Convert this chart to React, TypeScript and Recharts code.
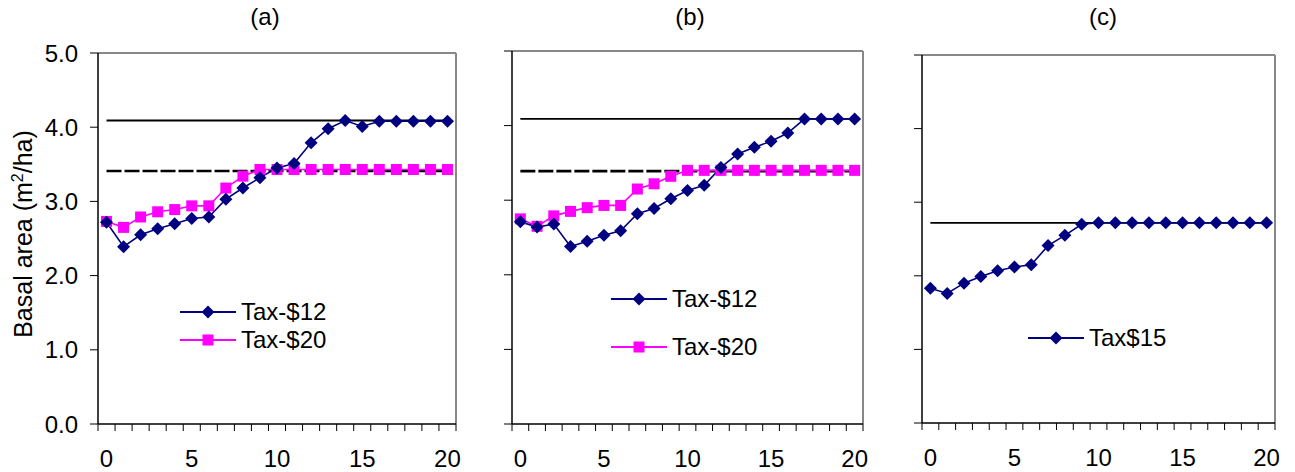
import React from 'react';
import { LineChart, Line, XAxis, YAxis, ReferenceLine, Legend } from 'recharts';

// ---------- data ----------
const years = [0, 1, 2, 3, 4, 5, 6, 7, 8, 9, 10, 11, 12, 13, 14, 15, 16, 17, 18, 19, 20];
const xTickLabels = [0, 5, 10, 15, 20];
const yTicks = [0, 1, 2, 3, 4, 5];

const aTax12 = [2.72, 2.39, 2.55, 2.63, 2.70, 2.77, 2.79, 3.03, 3.18, 3.32, 3.45, 3.51, 3.79, 3.98, 4.09, 4.01, 4.08, 4.08, 4.08, 4.08, 4.08];
const aTax20 = [2.73, 2.65, 2.79, 2.86, 2.89, 2.94, 2.94, 3.18, 3.34, 3.43, 3.43, 3.43, 3.43, 3.43, 3.43, 3.43, 3.43, 3.43, 3.43, 3.43, 3.43];
const bTax12 = [2.71, 2.64, 2.68, 2.38, 2.45, 2.53, 2.59, 2.82, 2.89, 3.02, 3.13, 3.20, 3.44, 3.62, 3.71, 3.79, 3.90, 4.09, 4.09, 4.09, 4.09];
const bTax20 = [2.75, 2.65, 2.79, 2.85, 2.90, 2.93, 2.93, 3.15, 3.22, 3.32, 3.40, 3.40, 3.40, 3.40, 3.40, 3.40, 3.40, 3.40, 3.40, 3.40, 3.40];
const cTax15 = [1.83, 1.76, 1.90, 1.99, 2.07, 2.12, 2.15, 2.41, 2.55, 2.70, 2.72, 2.72, 2.72, 2.72, 2.72, 2.72, 2.72, 2.72, 2.72, 2.72, 2.72];

const aSolidRef = 4.09;
const aDashedRef = 3.41;
const bSolidRef = 4.09;
const bDashedRef = 3.39;
const cSolidRef = 2.72;

// ---------- styles ----------
const NAVY = '#000080';
const MAGENTA = '#FF00FF';
const FONT = '"Liberation Sans", Arial, sans-serif';
const FS = 24;

const xMinorTicks = [...years.map((y) => y - 0.5), years[years.length - 1] + 0.5];
const xAllTicks = [...xMinorTicks, ...xTickLabels].sort((p, q) => p - q);
const xDomain = [xMinorTicks[0], xMinorTicks[xMinorTicks.length - 1]];

const Diamond = (props: any) => {
  const { cx, cy } = props;
  if (cx == null || cy == null) return <g />;
  const r = 6.5;
  return <polygon points={`${cx},${cy - r} ${cx + r},${cy} ${cx},${cy + r} ${cx - r},${cy}`} fill={NAVY} stroke="none" />;
};

const Square = (props: any) => {
  const { cx, cy } = props;
  if (cx == null || cy == null) return <g />;
  const s = 5.5;
  return <rect x={cx - s} y={cy - s} width={2 * s} height={2 * s} fill={MAGENTA} stroke="none" />;
};

const XTick = (props: any) => {
  const { x, y, payload } = props;
  const v = payload.value;
  if (Number.isInteger(v)) {
    return (
      <text x={x} y={y + 43} textAnchor="middle" fontSize={FS} fontFamily={FONT} fill="#000">
        {v}
      </text>
    );
  }
  return <line x1={x} x2={x} y1={y} y2={y + 7} stroke="#000" strokeWidth={1} />;
};

const makeYTick = (show: boolean) => (props: any) => {
  const { x, y, payload } = props;
  if (!show) return <g />;
  return (
    <text x={x - 12} y={y} dy="0.36em" textAnchor="end" fontSize={FS} fontFamily={FONT} fill="#000">
      {Number(payload.value).toFixed(1)}
    </text>
  );
};

type Entry = { name: string; color: string; shape: 'diamond' | 'square' };

const makeLegend = (entries: Entry[], gap: number) => () => (
  <div style={{ fontFamily: FONT, fontSize: FS, color: '#000', lineHeight: '24px' }}>
    {entries.map((e, i) => (
      <div key={e.name} style={{ display: 'flex', alignItems: 'center', height: 24, marginTop: i === 0 ? 0 : gap }}>
        <svg width={56} height={16} style={{ display: 'block' }}>
          <line x1={0} x2={56} y1={8} y2={8} stroke={e.color} strokeWidth={2} />
          {e.shape === 'diamond' ? (
            <polygon points="28,1.5 34.5,8 28,14.5 21.5,8" fill={e.color} />
          ) : (
            <rect x={22.5} y={2.5} width={11} height={11} fill={e.color} />
          )}
        </svg>
        <span style={{ marginLeft: 5, whiteSpace: 'nowrap', lineHeight: '24px', height: 24, display: 'block' }}>{e.name}</span>
      </div>
    ))}
  </div>
);

type PanelProps = {
  left: number;
  width: number;
  top: number;
  xAxisHeight: number;
  yAxisWidth: number;
  marginRight: number;
  showYLabels: boolean;
  data: any[];
  series: { key: string; color: string; shape: 'diamond' | 'square'; name: string }[];
  solidRef: number;
  dashedRef?: number;
  legendLeft: number;
  legendTop: number;
  legendGap: number;
};

const Panel = (p: PanelProps) => {
  const entries: Entry[] = p.series.map((s) => ({ name: s.name, color: s.color, shape: s.shape }));
  const YTick = makeYTick(p.showYLabels);
  return (
    <div style={{ position: 'absolute', left: p.left, top: 0 }}>
      <LineChart width={p.width} height={472} data={p.data} margin={{ top: p.top, right: p.marginRight, left: 0, bottom: 0 }}>
        <XAxis
          dataKey="x"
          type="number"
          domain={xDomain}
          ticks={xAllTicks}
          interval={0}
          tick={<XTick />}
          tickLine={false}
          tickSize={0}
          tickMargin={0}
          height={p.xAxisHeight}
          axisLine={{ stroke: '#000', strokeWidth: 1.5 }}
          allowDataOverflow
        />
        <YAxis
          type="number"
          domain={[0, 5]}
          ticks={yTicks}
          interval={0}
          width={p.yAxisWidth}
          tickSize={8}
          tickMargin={0}
          tick={<YTick />}
          axisLine={{ stroke: '#000', strokeWidth: 1.5 }}
          tickLine={{ stroke: '#000', strokeWidth: 1 }}
          allowDataOverflow
        />
        <ReferenceLine y={5} stroke="#888888" strokeWidth={2} />
        <ReferenceLine x={xDomain[1]} stroke="#888888" strokeWidth={2} />
        <ReferenceLine
          segment={[{ x: years[0], y: p.solidRef }, { x: years[years.length - 1], y: p.solidRef }]}
          stroke="#000"
          strokeWidth={1.8}
        />
        {p.dashedRef !== undefined && (
          <ReferenceLine
            segment={[{ x: years[0], y: p.dashedRef }, { x: years[years.length - 1], y: p.dashedRef }]}
            stroke="#000"
            strokeWidth={2.6}
            strokeDasharray="15 3"
          />
        )}
        {p.series.slice().reverse().map((s) => (
          <Line
            key={s.key}
            dataKey={s.key}
            name={s.name}
            type="linear"
            stroke={s.color}
            strokeWidth={1.6}
            dot={s.shape === 'diamond' ? <Diamond /> : <Square />}
            activeDot={false}
            isAnimationActive={false}
          />
        ))}
        <Legend
          layout="vertical"
          align="center"
          verticalAlign="middle"
          content={makeLegend(entries, p.legendGap)}
          wrapperStyle={{ left: p.legendLeft, top: p.legendTop, width: 'auto' }}
        />
      </LineChart>
    </div>
  );
};

const dataA = years.map((x, i) => ({ x, tax12: aTax12[i], tax20: aTax20[i] }));
const dataB = years.map((x, i) => ({ x, tax12: bTax12[i], tax20: bTax20[i] }));
const dataC = years.map((x, i) => ({ x, tax15: cTax15[i] }));

const seriesAB = [
  { key: 'tax12', color: NAVY, shape: 'diamond' as const, name: 'Tax-$12' },
  { key: 'tax20', color: MAGENTA, shape: 'square' as const, name: 'Tax-$20' },
];
const seriesC = [{ key: 'tax15', color: NAVY, shape: 'diamond' as const, name: 'Tax$15' }];

const titleStyle = (cx: number): React.CSSProperties => ({
  position: 'absolute',
  left: cx - 40,
  width: 80,
  top: 3,
  textAlign: 'center',
  fontFamily: FONT,
  fontSize: FS,
  color: '#000',
});

export default function App() {
  return (
    <div style={{ position: 'absolute', left: 0, top: 0, width: 1295, height: 472, background: '#fff', overflow: 'hidden', fontFamily: FONT }}>
      <Panel
        left={0}
        width={470}
        top={53}
        xAxisHeight={48}
        yAxisWidth={98}
        marginRight={14}
        showYLabels
        data={dataA}
        series={seriesAB}
        solidRef={aSolidRef}
        dashedRef={aDashedRef}
        legendLeft={180}
        legendTop={300}
        legendGap={4}
      />
      <Panel
        left={470}
        width={410}
        top={51}
        xAxisHeight={48}
        yAxisWidth={42}
        marginRight={17}
        showYLabels={false}
        data={dataB}
        series={seriesAB}
        solidRef={bSolidRef}
        dashedRef={bDashedRef}
        legendLeft={141}
        legendTop={287}
        legendGap={24}
      />
      <Panel
        left={880}
        width={415}
        top={55}
        xAxisHeight={49}
        yAxisWidth={42}
        marginRight={20}
        showYLabels={false}
        data={dataC}
        series={seriesC}
        solidRef={cSolidRef}
        legendLeft={148}
        legendTop={326}
        legendGap={0}
      />
      <div style={titleStyle(265)}>(a)</div>
      <div style={titleStyle(690)}>(b)</div>
      <div style={titleStyle(1103)}>(c)</div>
      <div
        style={{
          position: 'absolute',
          left: 23 - 150,
          top: 234 - 15,
          width: 300,
          height: 30,
          lineHeight: '30px',
          textAlign: 'center',
          transform: 'rotate(-90deg)',
          fontFamily: FONT,
          fontSize: 25,
          color: '#000',
          whiteSpace: 'nowrap',
        }}
      >
        Basal area (m<sup style={{ fontSize: 16, lineHeight: 0 }}>2</sup>/ha)
      </div>
    </div>
  );
}
